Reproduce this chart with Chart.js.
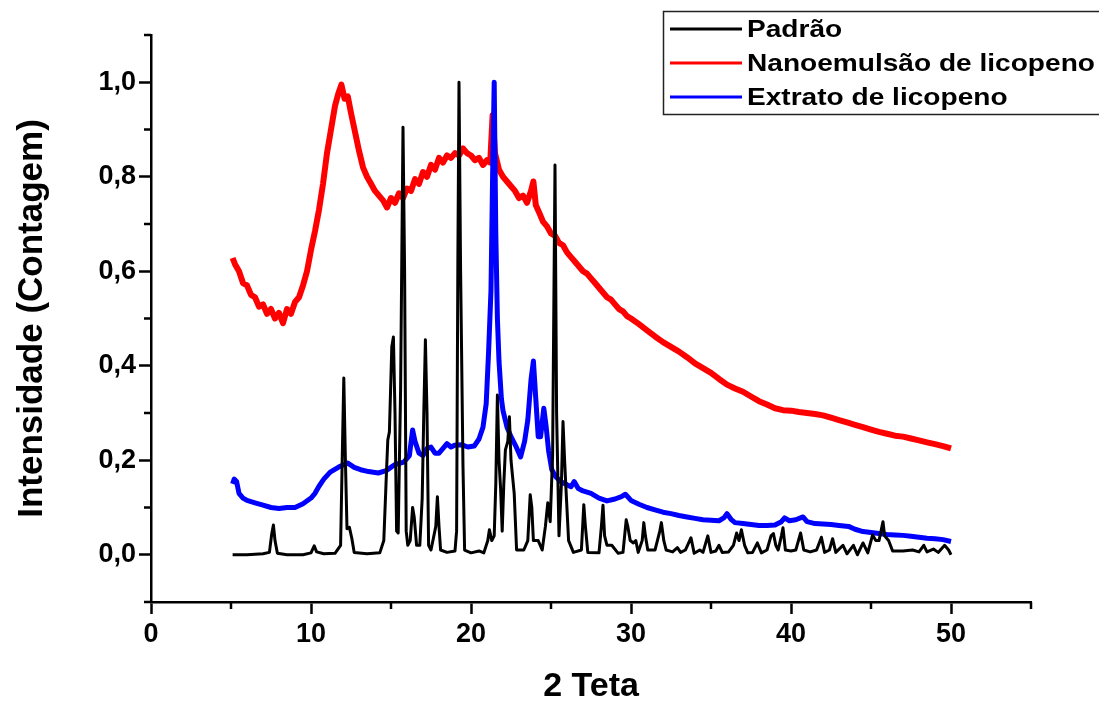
<!DOCTYPE html>
<html>
<head>
<meta charset="utf-8">
<script src="https://cdn.jsdelivr.net/npm/chart.js@4"></script>
<style>
html,body{margin:0;padding:0;background:#fff;}
canvas{display:block;}
</style>
</head>
<body>
<canvas id="c" width="1099" height="704"></canvas>
<script>
// ---- Data ----
const seriesLabels = ['Padrão', 'Nanoemulsão de licopeno', 'Extrato de licopeno'];

const padraoX = [5.1,6.0,7.0,7.4,7.55,7.65,7.75,7.9,8.5,9.5,10.0,10.2,10.35,10.8,11.5,11.85,11.95,12.05,12.15,12.25,12.4,12.55,12.7,13.5,14.3,14.55,14.7,14.8,14.9,15.05,15.15,15.25,15.35,15.45,15.6,15.75,15.85,15.95,16.05,16.2,16.35,16.45,16.6,16.8,16.95,17.05,17.15,17.25,17.35,17.5,17.8,17.9,18.0,18.1,18.5,19.0,19.1,19.18,19.25,19.35,19.5,19.6,20.0,20.5,20.8,21.05,21.15,21.3,21.45,21.55,21.65,21.75,21.85,21.95,22.05,22.15,22.3,22.4,22.5,22.6,22.7,22.85,23.3,23.55,23.7,23.8,23.9,24.2,24.45,24.65,24.8,24.95,25.1,25.25,25.35,25.5,25.65,25.75,25.85,25.95,26.1,26.4,26.9,27.05,27.15,27.3,28.0,28.15,28.25,28.35,28.5,28.8,29.2,29.5,29.7,29.8,29.95,30.15,30.3,30.45,30.7,30.8,30.9,31.05,31.5,31.8,31.9,32.05,32.2,32.6,32.9,33.1,33.4,33.75,33.95,34.3,34.5,34.8,35.0,35.3,35.5,35.7,36.1,36.4,36.6,36.75,36.9,37.1,37.3,37.6,37.9,38.15,38.5,38.75,38.9,39.05,39.2,39.4,39.5,39.65,40.0,40.3,40.6,40.8,41.2,41.6,41.9,42.1,42.4,42.6,42.8,43.25,43.5,43.9,44.15,44.5,44.8,45.1,45.3,45.5,45.75,45.85,46.1,46.35,47.0,47.6,48.0,48.3,48.5,48.9,49.2,49.6,49.85,50.0];
const padraoY = [0.0,0.0,0.002,0.005,0.045,0.063,0.03,0.003,0.0,0.0,0.004,0.019,0.006,0.002,0.003,0.02,0.2,0.374,0.2,0.055,0.058,0.035,0.005,0.002,0.004,0.03,0.16,0.243,0.26,0.44,0.461,0.3,0.05,0.046,0.35,0.905,0.6,0.05,0.02,0.03,0.1,0.08,0.02,0.02,0.12,0.3,0.455,0.3,0.02,0.01,0.06,0.123,0.06,0.01,0.005,0.008,0.05,0.63,1.0,0.6,0.186,0.01,0.004,0.008,0.004,0.03,0.053,0.03,0.04,0.15,0.338,0.2,0.14,0.05,0.15,0.222,0.24,0.292,0.2,0.165,0.13,0.01,0.01,0.03,0.127,0.1,0.03,0.03,0.01,0.06,0.11,0.07,0.21,0.825,0.3,0.04,0.15,0.282,0.2,0.13,0.03,0.005,0.01,0.106,0.06,0.005,0.004,0.06,0.105,0.04,0.02,0.02,0.003,0.005,0.074,0.06,0.03,0.025,0.03,0.005,0.03,0.068,0.04,0.01,0.01,0.05,0.068,0.03,0.01,0.006,0.015,0.005,0.01,0.036,0.003,0.01,0.005,0.04,0.005,0.008,0.02,0.005,0.006,0.02,0.046,0.03,0.053,0.02,0.004,0.005,0.025,0.004,0.01,0.04,0.045,0.02,0.01,0.04,0.057,0.01,0.008,0.01,0.046,0.01,0.006,0.01,0.037,0.005,0.01,0.034,0.005,0.02,0.002,0.02,0.0,0.025,0.004,0.042,0.03,0.03,0.07,0.04,0.03,0.008,0.008,0.01,0.006,0.02,0.006,0.012,0.005,0.02,0.01,0.0];

const nanoX = [5.1,5.25,5.5,5.75,6.0,6.25,6.5,6.75,7.0,7.25,7.5,7.75,8.0,8.25,8.5,8.75,9.0,9.25,9.5,9.75,10.0,10.25,10.5,10.75,11.0,11.25,11.5,11.7,11.9,12.1,12.3,12.5,12.75,13.0,13.25,13.5,13.75,14.0,14.25,14.5,14.75,15.0,15.25,15.5,15.75,16.0,16.25,16.5,16.75,17.0,17.25,17.5,17.75,18.0,18.25,18.5,18.75,19.0,19.25,19.5,19.75,20.0,20.25,20.5,20.75,21.0,21.2,21.35,21.5,21.75,22.0,22.25,22.5,22.75,23.0,23.25,23.5,23.75,23.9,24.05,24.25,24.5,24.75,25.0,25.25,25.5,25.75,26.0,26.25,26.5,26.75,27.0,27.25,27.5,27.75,28.0,28.25,28.5,28.75,29.0,29.25,29.5,29.75,30.0,30.5,31.0,31.5,32.0,32.5,33.0,33.5,34.0,34.5,35.0,35.5,36.0,36.5,37.0,37.5,38.0,38.5,39.0,39.5,40.0,40.5,41.0,41.5,42.0,42.5,43.0,43.5,44.0,44.5,45.0,45.5,46.0,46.5,47.0,47.5,48.0,48.5,49.0,49.5,50.0];
const nanoY = [0.628,0.615,0.60,0.575,0.57,0.55,0.545,0.525,0.53,0.51,0.52,0.50,0.512,0.49,0.52,0.51,0.535,0.545,0.57,0.60,0.645,0.685,0.73,0.785,0.85,0.9,0.95,0.975,0.995,0.965,0.97,0.935,0.895,0.855,0.82,0.80,0.785,0.77,0.76,0.75,0.735,0.755,0.745,0.765,0.755,0.775,0.77,0.795,0.785,0.81,0.80,0.825,0.815,0.84,0.83,0.845,0.84,0.85,0.845,0.86,0.85,0.845,0.835,0.84,0.825,0.835,0.83,0.93,0.85,0.815,0.80,0.79,0.78,0.77,0.755,0.76,0.745,0.77,0.79,0.74,0.725,0.705,0.695,0.68,0.675,0.66,0.655,0.64,0.63,0.62,0.61,0.60,0.595,0.585,0.575,0.565,0.555,0.545,0.54,0.53,0.52,0.515,0.505,0.50,0.488,0.475,0.462,0.45,0.44,0.43,0.418,0.405,0.395,0.385,0.372,0.36,0.352,0.345,0.335,0.325,0.318,0.31,0.306,0.305,0.302,0.30,0.298,0.295,0.29,0.285,0.28,0.275,0.27,0.265,0.26,0.256,0.252,0.25,0.246,0.242,0.238,0.234,0.23,0.225];

const extratoX = [5.1,5.2,5.35,5.5,5.75,6.0,6.5,7.0,7.5,8.0,8.5,9.0,9.5,10.0,10.25,10.5,10.8,11.2,11.7,12.0,12.3,12.7,13.1,13.6,14.2,14.7,15.2,15.8,16.15,16.35,16.5,16.75,17.0,17.25,17.5,17.75,18.0,18.25,18.5,18.75,19.0,19.4,19.8,20.2,20.5,20.75,20.95,21.1,21.25,21.35,21.45,21.55,21.65,21.75,21.9,22.0,22.25,22.5,22.8,23.1,23.35,23.55,23.75,23.9,24.05,24.2,24.35,24.55,24.7,24.85,25.05,25.3,25.6,26.0,26.25,26.45,26.7,27.0,27.5,28.0,28.5,29.0,29.4,29.65,30.0,30.5,31.0,31.5,32.0,32.5,33.0,33.5,34.0,34.5,35.0,35.5,35.8,36.0,36.25,36.5,37.0,37.5,38.0,38.5,39.0,39.4,39.6,39.9,40.3,40.75,41.0,41.5,42.0,42.5,43.0,43.6,44.0,44.5,45.0,45.5,46.0,46.5,47.0,47.5,48.0,48.5,49.0,49.5,50.0];
const extratoY = [0.15,0.16,0.155,0.13,0.12,0.115,0.11,0.105,0.10,0.098,0.10,0.10,0.108,0.12,0.13,0.145,0.16,0.175,0.185,0.19,0.194,0.185,0.18,0.176,0.173,0.178,0.19,0.196,0.21,0.264,0.24,0.215,0.21,0.225,0.228,0.215,0.215,0.225,0.235,0.228,0.232,0.233,0.228,0.23,0.245,0.27,0.32,0.43,0.56,0.8,1.0,0.68,0.5,0.41,0.33,0.305,0.27,0.25,0.23,0.207,0.24,0.285,0.37,0.41,0.33,0.25,0.25,0.31,0.27,0.22,0.18,0.165,0.155,0.148,0.144,0.155,0.14,0.135,0.13,0.12,0.114,0.118,0.123,0.128,0.115,0.107,0.1,0.095,0.09,0.087,0.083,0.08,0.077,0.074,0.073,0.072,0.078,0.087,0.075,0.068,0.066,0.064,0.062,0.062,0.063,0.07,0.078,0.072,0.074,0.08,0.07,0.066,0.065,0.064,0.062,0.06,0.054,0.049,0.047,0.045,0.043,0.042,0.041,0.039,0.037,0.035,0.034,0.032,0.028];

const xTickValues = [0, 10, 20, 30, 40, 50];
const xMinorValues = [5, 15, 25, 35, 45, 55];
const yTickValues = [0, 0.2, 0.4, 0.6, 0.8, 1.0];
const yTickLabels = ['0,0', '0,2', '0,4', '0,6', '0,8', '1,0'];
const yMinorValues = [-0.1, 0.1, 0.3, 0.5, 0.7, 0.9, 1.1];
const seriesColors = ['#000000', '#ff0000', '#0000ff'];

const pts = (xs, ys) => xs.map((x, i) => ({x: x, y: ys[i]}));

const FONT = '"Liberation Sans", Arial, sans-serif';

const minorTicks = {
  id: 'minorTicks',
  afterDraw(chart) {
    const ctx = chart.ctx, xs = chart.scales.x, ys = chart.scales.y;
    const a = chart.chartArea;
    ctx.save();
    ctx.strokeStyle = '#000';
    ctx.lineWidth = 2.5;
    ctx.beginPath();
    xMinorValues.forEach(v => { const p = xs.getPixelForValue(v); ctx.moveTo(p, a.bottom); ctx.lineTo(p, a.bottom + 7); });
    yMinorValues.forEach(v => { const p = ys.getPixelForValue(v); ctx.moveTo(a.left, p); ctx.lineTo(a.left - 7, p); });
    ctx.stroke();
    ctx.restore();
  }
};

const boxLegend = {
  id: 'boxLegend',
  afterDraw(chart) {
    const ctx = chart.ctx;
    ctx.save();
    ctx.strokeStyle = '#222';
    ctx.lineWidth = 1.5;
    ctx.strokeRect(663.5, 11.5, 500, 103);
    const rows = [29, 63, 97];
    chart.data.datasets.forEach((ds, i) => {
      ctx.strokeStyle = ds.borderColor;
      ctx.lineWidth = 3;
      ctx.beginPath();
      ctx.moveTo(670, rows[i]);
      ctx.lineTo(742, rows[i]);
      ctx.stroke();
      ctx.save();
      ctx.translate(747, rows[i]);
      ctx.scale(1.17, 1);
      ctx.fillStyle = '#000';
      ctx.font = 'bold 24px ' + FONT;
      ctx.textBaseline = 'middle';
      ctx.fillText(ds.label, 0, 1);
      ctx.restore();
    });
    ctx.restore();
  }
};

new Chart(document.getElementById('c'), {
  type: 'line',
  data: {
    datasets: [
      {label: seriesLabels[0], data: pts(padraoX, padraoY), borderColor: seriesColors[0], borderWidth: 3, order: 0},
      {label: seriesLabels[1], data: pts(nanoX, nanoY), borderColor: seriesColors[1], borderWidth: 6, order: 2},
      {label: seriesLabels[2], data: pts(extratoX, extratoY), borderColor: seriesColors[2], borderWidth: 5, order: 1}
    ]
  },
  options: {
    responsive: false,
    animation: false,
    devicePixelRatio: 1,
    parsing: false,
    elements: {point: {radius: 0}, line: {tension: 0, borderJoinStyle: 'round'}},
    layout: {padding: {top: 35, right: 68, bottom: 0, left: 0}},
    plugins: {legend: {display: false}, tooltip: {enabled: false}},
    scales: {
      x: {
        type: 'linear', min: 0, max: 55, position: 'bottom',
        afterBuildTicks: s => { s.ticks = xTickValues.map(v => ({value: v})); },
        afterFit: s => { s.height = 102; },
        ticks: {font: {family: FONT, size: 27, weight: 'bold'}, color: '#000', padding: 4, maxRotation: 0, autoSkip: false},
        grid: {drawOnChartArea: false, drawTicks: true, tickLength: 12, tickWidth: 2.5, tickColor: '#000'},
        border: {display: true, color: '#000', width: 2.5},
        title: {display: true, text: '2 Teta', color: '#000', font: {family: FONT, size: 34, weight: 'bold', lineHeight: 1}, padding: {top: 0, bottom: 0}}
      },
      y: {
        type: 'linear', min: -0.1, max: 1.1,
        afterBuildTicks: s => { s.ticks = yTickValues.map(v => ({value: v})); },
        afterFit: s => { s.width = 151; },
        ticks: {font: {family: FONT, size: 27, weight: 'bold'}, color: '#000', padding: 3, callback: (v, i) => yTickLabels[i]},
        grid: {drawOnChartArea: false, drawTicks: true, tickLength: 12, tickWidth: 2.5, tickColor: '#000'},
        border: {display: true, color: '#000', width: 2.5},
        title: {display: true, text: 'Intensidade (Contagem)', color: '#000', font: {family: FONT, size: 35, weight: 'bold', lineHeight: 1}, padding: {top: 15, bottom: 0}}
      }
    }
  },
  plugins: [minorTicks, boxLegend]
});
</script>
</body>
</html>
